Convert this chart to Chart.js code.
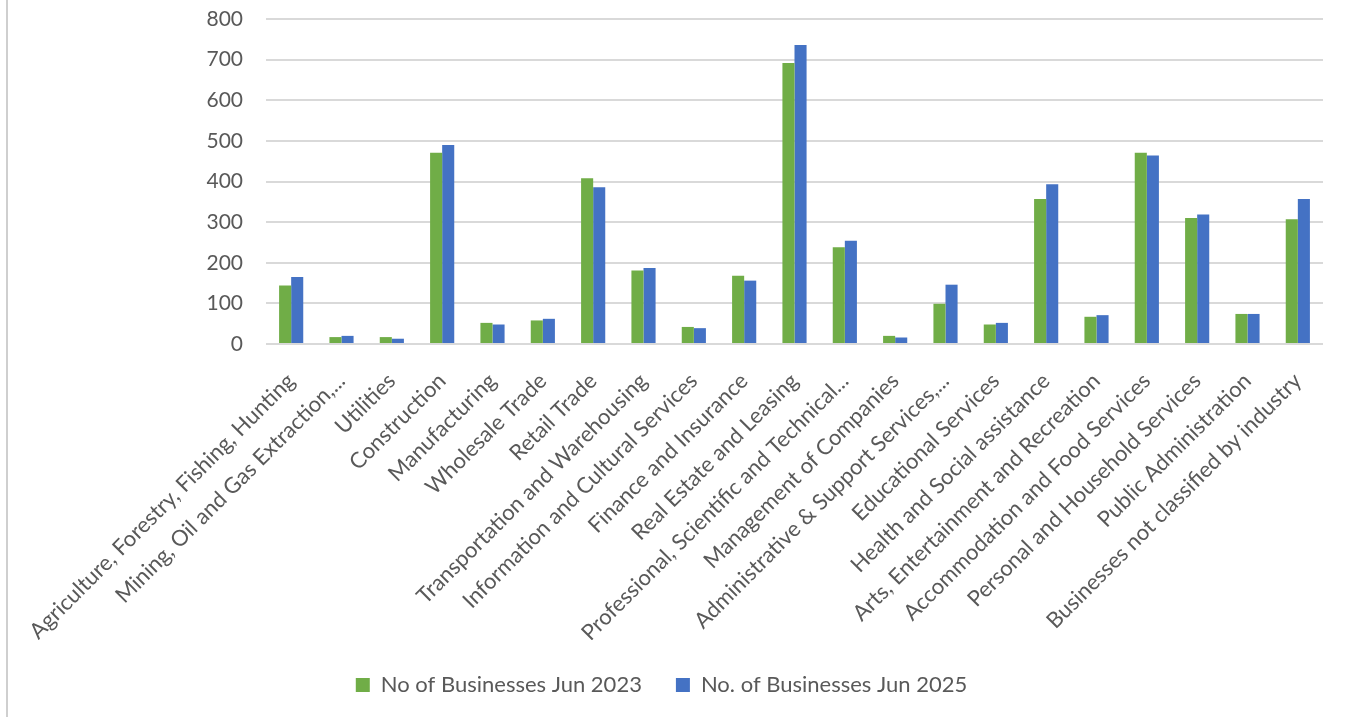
<!DOCTYPE html>
<html>
<head>
<meta charset="utf-8">
<title>Businesses by industry</title>
<script src="https://cdn.jsdelivr.net/npm/chart.js@4.4.1/dist/chart.umd.min.js"></script>
<style>
    body { margin: 0; background: #ffffff; }
    #wrap { position: relative; width: 1351px; height: 717px; }
    #edge { position: absolute; left: 6px; top: 0; width: 2px; height: 717px; background: #cfcfcf; }
</style>
</head>
<body>
<div id="wrap">
    <div id="edge"></div>
    <canvas id="chart" width="1351" height="717"></canvas>
</div>
<script>
const industries = [
    "Agriculture, Forestry, Fishing, Hunting",
    "Mining, Oil and Gas Extraction,...",
    "Utilities",
    "Construction",
    "Manufacturing",
    "Wholesale Trade",
    "Retail Trade",
    "Transportation and Warehousing",
    "Information and Cultural Services",
    "Finance and Insurance",
    "Real Estate and Leasing",
    "Professional, Scientific and Technical...",
    "Management of Companies",
    "Administrative & Support Services,...",
    "Educational Services",
    "Health and Social assistance",
    "Arts, Entertainment and Recreation",
    "Accommodation and Food Services",
    "Personal and Household Services",
    "Public Administration",
    "Businesses not classified by industry"
];
const businesses2023 = [144, 17, 17, 471, 52, 58, 408, 181, 42, 168, 692, 238, 20, 99, 48, 357, 67, 471, 310, 74, 307];
const businesses2025 = [165, 20, 13, 490, 48, 62, 386, 187, 39, 156, 736, 254, 16, 146, 52, 393, 71, 464, 319, 74, 357];
const yTicks = [0, 100, 200, 300, 400, 500, 600, 700, 800];

const TEXT = "#595959";
const FONT = "Lato";

function displayChart() {
    const chartElement = document.getElementById("chart");

    const data = {
        labels: industries,
        datasets: [
            {
                label: "No of Businesses Jun 2023",
                data: businesses2023,
                backgroundColor: "#70ad47",
            },
            {
                label: "No. of Businesses Jun 2025",
                data: businesses2025,
                backgroundColor: "#4472c4",
            }
        ]
    };

    const config = {
        type: "bar",
        data: data,
        options: {
            responsive: false,
            animation: false,
            datasets: {
                bar: { categoryPercentage: 0.48, barPercentage: 1 }
            },
            layout: {
                padding: { top: 19, right: 28, bottom: 11, left: 0 }
            },
            scales: {
                x: {
                    grid: { display: false },
                    border: { display: false },
                    ticks: {
                        color: TEXT,
                        font: { family: FONT, size: 22 },
                        minRotation: 45,
                        maxRotation: 45,
                        autoSkip: false,
                        padding: 16
                    },
                    // fixed height so the plot bottom stays put
                    afterFit: (scale) => { scale.height = 296; }
                },
                y: {
                    min: 0,
                    max: yTicks[yTicks.length - 1],
                    afterBuildTicks: (scale) => { scale.ticks = yTicks.map(v => ({ value: v })); },
                    // invisible tick marks push the labels away from the plot
                    grid: { color: "#d9d9d9", lineWidth: 2, drawTicks: true, tickLength: 20, tickColor: "rgba(0,0,0,0)" },
                    border: { display: false },
                    ticks: {
                        color: TEXT,
                        font: { family: FONT, size: 21 },
                        padding: 3
                    },
                    afterFit: (scale) => { scale.width = 266; }
                }
            },
            plugins: {
                legend: {
                    position: "bottom",
                    labels: {
                        color: TEXT,
                        font: { family: FONT, size: 22 },
                        boxWidth: 14,
                        boxHeight: 14,
                        padding: 34
                    }
                },
                tooltip: { enabled: false }
            }
        }
    };
    let chart = new Chart(chartElement, config);
}
displayChart();
</script>
</body>
</html>
